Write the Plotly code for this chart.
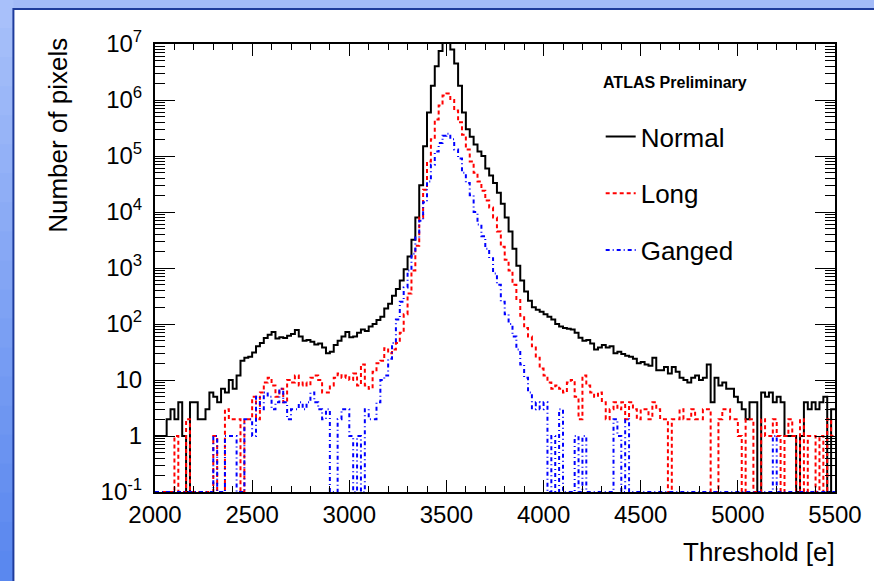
import numpy as np
import plotly.graph_objects as go

# ---------------- data (counts per 20 e bin, 2000..5500) ----------------
BIN_START = 2000
BIN_WIDTH = 20

normal = [
    1, 1, 1, 2, 3, 2, 4, 1, 0, 4,                      # 2000-2180
    4, 2, 2, 3, 6, 5, 4, 7, 6, 10,                     # 2200-2380
    7, 12, 22, 25, 26, 31, 40, 46, 56, 64,             # 2400-2580
    72, 55, 58, 56, 62, 66, 78, 60, 50, 52,            # 2600-2780
    48, 43, 45, 38, 30, 32, 42, 50, 60, 72,            # 2800-2980
    58, 60, 70, 80, 75, 90, 100, 118, 135, 190,        # 3000-3180
    230, 320, 420, 600, 950, 1600, 3200, 8000, 30000, 150000,          # 3200-3380
    600000, 1800000, 4000000, 7500000, 10500000, 11000000, 8000000, 4500000, 1800000, 600000,  # 3400-3580
    300000, 220000, 160000, 120000, 100000, 60000, 45000, 33000, 22000, 14000,  # 3600-3780
    8000, 4500, 2200, 1100, 600, 380, 260, 200, 180, 165,   # 3800-3980
    150, 135, 120, 100, 90, 85, 82, 80, 70, 57,        # 4000-4180
    50, 52, 45, 35, 38, 42, 38, 40, 30, 32,            # 4200-4380
    29, 27, 26, 24, 20, 21, 19, 18, 25, 15,            # 4400-4580
    15, 17, 13, 17, 14, 11, 10, 9, 11, 12,             # 4600-4780
    10, 11, 19, 4, 11, 8, 9, 7, 7, 5,                  # 4800-4980
    4, 3, 2, 4, 4, 0, 6, 5, 6, 4,                      # 5000-5180
    5, 4, 1, 1, 1, 0, 1, 4, 3, 4,                      # 5200-5380
    3, 4, 5, 0, 3,                                     # 5400-5480
]

long_ = [
    0, 0, 0, 0, 0, 1, 0, 0, 2, 0,                      # 2000-2180
    0, 0, 0, 0, 0, 1, 0, 0, 3, 2,                      # 2200-2380
    2, 2, 0, 2, 2, 5, 2, 6, 9, 11,                     # 2400-2580
    8, 5, 7, 4, 10, 9, 12, 8, 9, 8,                    # 2600-2780
    11, 12, 10, 6, 6, 8, 11, 13, 11, 12,               # 2800-2980
    10, 13, 8, 19, 8, 7, 14, 20, 22, 37,               # 3000-3180
    30, 35, 46, 70, 150, 350, 900, 2500, 8000, 25000,  # 3200-3380
    80000, 200000, 450000, 800000, 1200000, 1300000, 1000000, 650000, 400000, 240000,  # 3400-3580
    130000, 80000, 50000, 35000, 24000, 16000, 12000, 8000, 4500, 2400,  # 3600-3780
    1400, 900, 500, 280, 140, 85, 60, 40, 25, 16,      # 3800-3980
    12, 9, 7, 8, 7, 6, 9, 10, 5, 2,                    # 4000-4180
    12, 8, 6, 5, 6, 4, 2, 3, 4, 3,                     # 4200-4380
    4, 2, 4, 3, 2, 3, 3, 2, 4, 3,                      # 4400-4580
    2, 2, 0, 2, 2, 3, 2, 2, 3, 2,                      # 4600-4780
    2, 3, 3, 0, 0, 2, 3, 3, 2, 2,                      # 4800-4980
    1, 0, 2, 2, 0, 0, 2, 1, 1, 2,                      # 5000-5180
    1, 0, 1, 2, 1, 0, 2, 0, 1, 1,                      # 5200-5380
    0, 1, 0, 2, 1,                                     # 5400-5480
]

ganged = [
    0, 0, 0, 0, 0, 0, 0, 0, 0, 0,                      # 2000-2180
    0, 0, 0, 0, 0, 1, 0, 0, 1, 1,                      # 2200-2380
    1, 0, 0, 2, 2, 1, 5, 3, 6, 5,                      # 2400-2580
    3, 4, 7, 4, 2, 3, 3, 4, 3, 4,                      # 2600-2780
    6, 4, 3, 2, 3, 0, 0, 2, 3, 3,                      # 2800-2980
    1, 0, 1, 0, 3, 2, 2, 4, 10, 12,                    # 3000-3180
    24, 46, 120, 250, 450, 900, 1800, 3500, 7000, 15000,   # 3200-3380
    35000, 70000, 120000, 170000, 230000, 250000, 200000, 130000, 90000, 50000,  # 3400-3580
    33000, 20000, 10000, 6000, 3700, 2200, 1500, 800, 500, 250,  # 3600-3780
    150, 100, 60, 35, 19, 11, 6, 3, 4, 3,              # 3800-3980
    4, 0, 1, 0, 3, 0, 0, 0, 1, 0,                      # 4000-4180
    1, 0, 0, 0, 0, 0, 0, 0, 2, 1,                      # 4200-4380
    0, 2, 0, 0, 0, 0, 0, 0, 0, 0,                      # 4400-4580
    0, 0, 0, 0, 0, 0, 0, 0, 0, 0,                      # 4600-4780
    0, 0, 0, 0, 0, 0, 0, 0, 0, 0,                      # 4800-4980
    0, 0, 0, 0, 0, 0, 0, 0, 0, 1,                      # 5000-5180
    0, 0, 0, 0, 0, 0, 0, 0, 0, 0,                      # 5200-5380
    0, 0, 0, 0, 0,                                     # 5400-5480
]

series_names = ["Normal", "Long", "Ganged"]
y_tick_vals = [0.1, 1, 10, 100, 1e3, 1e4, 1e5, 1e6, 1e7]
y_tick_text = ["10<sup>-1</sup>", "1", "10", "10<sup>2</sup>", "10<sup>3</sup>",
               "10<sup>4</sup>", "10<sup>5</sup>", "10<sup>6</sup>", "10<sup>7</sup>"]
x_tick_vals = [2000, 2500, 3000, 3500, 4000, 4500, 5000, 5500]

Y_MIN, Y_MAX = 0.1, 1e7
FONT = "Liberation Sans, Arial, Helvetica, sans-serif"


def step_xy(counts):
    c = np.asarray(counts, dtype=float)
    edges = BIN_START + BIN_WIDTH * np.arange(len(c) + 1)
    shown = np.where(c > 0, c, Y_MIN)      # empty bins drawn on the axis floor (ROOT style)
    return edges, np.append(shown, shown[-1])


fig = go.Figure()
styles = [
    dict(color="black", width=2, dash="solid"),
    dict(color="#ff0000", width=2, dash="4px,3px"),
    dict(color="#0000ff", width=2, dash="4px,3px,1px,3px"),
]
for name, counts, st in zip(series_names, [normal, long_, ganged], styles):
    xs, ys = step_xy(counts)
    fig.add_trace(go.Scatter(x=xs, y=ys, mode="lines", line_shape="hv",
                             line=st, name=name, legendgroup=name))

# ---------------- background (blue gradient frame + white pad) ----------------
W, H = 874, 581
L, R, T, B = 155, 37, 44, 89
pw, ph = W - L - R, H - T - B


def px2x(px):
    return (px - L) / pw


def py2y(py):
    return (H - B - py) / ph


shapes = []
top_col = np.array([0xa8, 0xc0, 0xfa])
bot_col = np.array([0x5a, 0x88, 0xef])
nb = 20
for i in range(nb):
    f = i / (nb - 1)
    col = (top_col * (1 - f) + bot_col * f).astype(int)
    shapes.append(dict(type="rect", xref="paper", yref="paper", layer="below",
                       x0=px2x(-2), x1=px2x(14),
                       y0=py2y(H * i / nb - 1), y1=py2y(H * (i + 1) / nb + 1),
                       fillcolor="rgb(%d,%d,%d)" % tuple(col), line=dict(width=0)))
shapes.append(dict(type="rect", xref="paper", yref="paper", layer="below",
                   x0=px2x(13), x1=px2x(W + 20), y0=py2y(-2), y1=py2y(9),
                   fillcolor="#a3bbf8", line=dict(width=0)))
shapes.append(dict(type="rect", xref="paper", yref="paper", layer="below",
                   x0=px2x(13), x1=px2x(W + 20), y0=py2y(9), y1=py2y(H + 20),
                   fillcolor="white", line=dict(color="#1f3c9c", width=2)))

annotations = [
    dict(text="<b>ATLAS Preliminary</b>", xref="paper", yref="paper",
         x=px2x(602), y=py2y(83), xanchor="left", yanchor="middle",
         showarrow=False, font=dict(family=FONT, size=16, color="black")),
    dict(text="Number of pixels", xref="paper", yref="paper", textangle=-90,
         x=px2x(57), y=py2y(36), xanchor="center", yanchor="top",
         showarrow=False, font=dict(family=FONT, size=26, color="black")),
    dict(text="Threshold [e]", xref="paper", yref="paper",
         x=px2x(839), y=py2y(552), xanchor="right", yanchor="middle",
         showarrow=False, font=dict(family=FONT, size=26, color="black")),
]

minor_y = [m * 10.0 ** e for e in range(-1, 7) for m in range(2, 10)]

fig.update_layout(
    width=W, height=H,
    margin=dict(l=L, r=R, t=T, b=B, pad=0),
    paper_bgcolor="#94b0f6",
    plot_bgcolor="white",
    shapes=shapes,
    annotations=annotations,
    font=dict(family=FONT, size=24, color="black"),
    showlegend=True,
    legend=dict(x=px2x(602), y=py2y(113), xanchor="left", yanchor="top",
                bgcolor="rgba(0,0,0,0)", borderwidth=0, tracegroupgap=20,
                font=dict(family=FONT, size=26, color="black"),
                itemwidth=30),
    xaxis=dict(range=[2000, 5500], tickmode="array", tickvals=x_tick_vals,
               ticks="inside", ticklen=12, tickwidth=1, tickcolor="black",
               minor=dict(dtick=100, tick0=2000, ticks="inside", ticklen=6,
                          tickwidth=1, tickcolor="black", showgrid=False),
               showline=True, linecolor="black", linewidth=2, mirror="allticks",
               showgrid=False, zeroline=False,
               tickfont=dict(family=FONT, size=24, color="black")),
    yaxis=dict(type="log", range=[np.log10(Y_MIN), np.log10(Y_MAX)],
               tickmode="array", tickvals=y_tick_vals, ticktext=y_tick_text,
               ticks="inside", ticklen=20, tickwidth=1, tickcolor="black",
               minor=dict(tickmode="array", tickvals=minor_y, ticks="inside",
                          ticklen=10, tickwidth=1, tickcolor="black", showgrid=False),
               showline=True, linecolor="black", linewidth=2, mirror="allticks",
               showgrid=False, zeroline=False, ticklabelstandoff=6,
               tickfont=dict(family=FONT, size=24, color="black")),
)

fig.write_html("out.html")
